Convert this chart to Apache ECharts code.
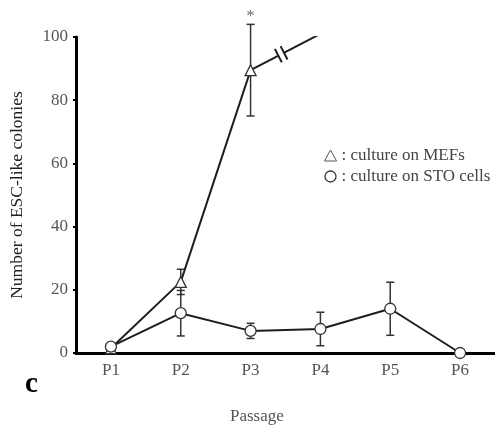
<!DOCTYPE html>
<html>
<head>
<meta charset="utf-8">
<script src="https://cdn.jsdelivr.net/npm/echarts@6/dist/echarts.min.js"></script>
<style>html,body{margin:0;padding:0;background:#fff;}#c{width:495px;height:425px;}</style>
</head>
<body>
<div id="c"></div>
<script>
const categories = ['P1', 'P2', 'P3', 'P4', 'P5', 'P6'];
const yTicks = [0, 20, 40, 60, 80, 100];
const mefValues = [1.5, 22.5, 89.5, null, null, null];
const mefErr = [0, 4, 14.5, null, null, null];
const mefContinuation = [null, null, 89.5, 101, null, null]; // line running off past the axis break
const stoValues = [2, 12.6, 7, 7.6, 14, 0];
const stoErr = [0, 7.2, 2.4, 5.3, 8.4, 0];
const sigMarks = ['', '', '*', '', '', ''];
const legendNames = [': culture on MEFs', ': culture on STO cells'];

const FONT = '"Liberation Serif", "DejaVu Serif", serif';
const INK = '#1e1e1e';
const GRAY = '#555';

function errData(vals, errs) {
  const out = [];
  vals.forEach((v, i) => { if (v != null && errs[i]) out.push([i, v, errs[i], sigMarks[i]]); });
  return out;
}
function errRender(withSig) {
  return function (params, api) {
    const i = api.value(0), v = api.value(1), e = api.value(2);
    const top = api.coord([i, v + e]);
    const bot = api.coord([i, v - e]);
    const hw = 4;
    const st = { stroke: '#333', lineWidth: 1.5 };
    const children = [
      { type: 'line', shape: { x1: top[0], y1: top[1], x2: bot[0], y2: bot[1] }, style: st },
      { type: 'line', shape: { x1: top[0] - hw, y1: top[1], x2: top[0] + hw, y2: top[1] }, style: st },
      { type: 'line', shape: { x1: bot[0] - hw, y1: bot[1], x2: bot[0] + hw, y2: bot[1] }, style: st }
    ];
    const mark = withSig ? sigMarks[i] : '';
    if (mark) {
      children.push({ type: 'text', x: top[0], y: top[1],
        style: { text: mark, font: '16px ' + FONT, fill: '#666', align: 'center', verticalAlign: 'bottom' } });
    }
    return { type: 'group', children };
  };
}

const chart = echarts.init(document.getElementById('c'));
const option = {
  animation: false,
  backgroundColor: '#fff',
  grid: { left: 76, top: 37, width: 420, height: 316 },
  legend: {
    orient: 'vertical', left: 324, top: 147, itemGap: 4, padding: 0,
    itemWidth: 12, itemHeight: 11,
    textStyle: { fontFamily: FONT, fontSize: 17, color: '#444' },
    data: [
      { name: legendNames[0], icon: 'triangle', itemStyle: { color: '#fff', borderColor: '#555', borderWidth: 1 } },
      { name: legendNames[1], icon: 'circle', itemStyle: { color: '#fff', borderColor: '#333', borderWidth: 1.3 } }
    ]
  },
  xAxis: {
    type: 'category', data: categories, boundaryGap: true,
    axisLine: { lineStyle: { color: '#000', width: 3 } },
    axisTick: { show: false },
    axisLabel: { fontFamily: FONT, fontSize: 17, color: GRAY, margin: 9 }
  },
  yAxis: {
    type: 'value', min: 0, max: 100, interval: 20,
    name: 'Number of ESC-like colonies', nameLocation: 'middle', nameGap: 50, nameRotate: 90,
    nameTextStyle: { fontFamily: FONT, fontSize: 17.5, color: '#222' },
    axisLine: { show: true, lineStyle: { color: '#000', width: 3 } },
    axisTick: { show: true, length: 3, lineStyle: { color: '#000', width: 2 } },
    splitLine: { show: false },
    axisLabel: { fontFamily: FONT, fontSize: 17, color: GRAY, margin: 8,
      formatter: v => yTicks.indexOf(v) >= 0 ? String(v) : '' }
  },
  series: [
    { type: 'custom', name: 'mefErr', silent: true, z: 1, renderItem: errRender(true), data: errData(mefValues, mefErr), clip: false },
    { type: 'custom', name: 'stoErr', silent: true, z: 1, renderItem: errRender(false), data: errData(stoValues, stoErr), clip: false },
    { type: 'line', name: 'mefCont', data: mefContinuation, showSymbol: false, clip: true, z: 2,
      lineStyle: { color: INK, width: 2 }, connectNulls: false },
    { type: 'line', name: legendNames[0], data: mefValues, symbol: 'triangle', symbolSize: 11, z: 3,
      lineStyle: { color: INK, width: 2 },
      itemStyle: { color: '#fff', borderColor: '#333', borderWidth: 1.3 } },
    { type: 'line', name: legendNames[1], data: stoValues, symbol: 'circle', symbolSize: 11, z: 4,
      lineStyle: { color: INK, width: 2 },
      itemStyle: { color: '#fff', borderColor: '#333', borderWidth: 1.3 } }
  ]
};
chart.setOption(option);

// axis-break decoration placed from the data coordinates
const pix = p => chart.convertToPixel({ xAxisIndex: 0, yAxisIndex: 0 }, p);
const p0 = pix([2, mefContinuation[2]]);
const pT = pix([3, mefContinuation[3]]);
const yTop = pix([0, 100])[1];
const t = (p0[1] - yTop) / (p0[1] - pT[1]);
const pe = [p0[0] + t * (pT[0] - p0[0]), p0[1] + t * (pT[1] - p0[1])];
const mid = [p0[0] + 0.48 * (pe[0] - p0[0]), p0[1] + 0.48 * (pe[1] - p0[1])];
const len = Math.hypot(pe[0] - p0[0], pe[1] - p0[1]);
const u = [(pe[0] - p0[0]) / len, (pe[1] - p0[1]) / len];
const n = [-u[1], u[0]];
const gap = 3.2, half = 7.5;
const a = [mid[0] - gap * u[0], mid[1] - gap * u[1]];
const b = [mid[0] + gap * u[0], mid[1] + gap * u[1]];
const seg = c => ({ x1: c[0] - half * n[0], y1: c[1] - half * n[1], x2: c[0] + half * n[0], y2: c[1] + half * n[1] });

chart.setOption({
  graphic: [
    { type: 'polygon', z: 10, shape: { points: [
        [a[0] - 4 * n[0], a[1] - 4 * n[1]], [a[0] + 4 * n[0], a[1] + 4 * n[1]],
        [b[0] + 4 * n[0], b[1] + 4 * n[1]], [b[0] - 4 * n[0], b[1] - 4 * n[1]]] },
      style: { fill: '#fff' } },
    { type: 'line', z: 11, shape: seg(a), style: { stroke: INK, lineWidth: 2 } },
    { type: 'line', z: 11, shape: seg(b), style: { stroke: INK, lineWidth: 2 } },
    { type: 'text', z: 11, left: 230, top: 408, style: { text: 'Passage', font: '17px ' + FONT, fill: GRAY } },
    { type: 'text', z: 11, left: 25, top: 370, style: { text: 'c', font: 'bold 29px ' + FONT, fill: '#000' } }
  ]
});
</script>
</body>
</html>
